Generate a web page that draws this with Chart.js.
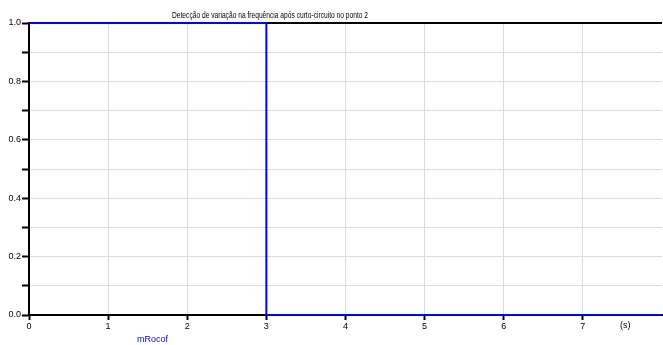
<!DOCTYPE html>
<html>
<head>
<meta charset="utf-8">
<script src="https://cdn.jsdelivr.net/npm/chart.js@4/dist/chart.umd.min.js"></script>
<style>
  html, body { margin: 0; padding: 0; background: #fff; }
  #wrap { width: 663px; height: 345px; }
</style>
</head>
<body>
<div id="wrap"><canvas id="chart" width="663" height="345"></canvas></div>
<script>
// step signal
const time = [0, 3, 3, 8];
const mRocof = [1, 1, 0, 0];
const xTicks = ['0', '1', '2', '3', '4', '5', '6', '7'];
const yTicks = ['0.0', '0.2', '0.4', '0.6', '0.8', '1.0'];
const chartTitle = 'Detecção de variação na frequência após curto-circuito no ponto 2';
const seriesName = 'mRocof';
const xUnit = '(s)';

const FONT = '"Liberation Sans", Arial, sans-serif';

// top frame line, drawn under the series
const frame = {
    id: 'frame',
    beforeDatasetsDraw(chart) {
        const ctx = chart.ctx;
        const area = chart.chartArea;
        ctx.save();
        ctx.strokeStyle = '#000';
        ctx.lineWidth = 2;
        ctx.beginPath();
        ctx.moveTo(area.left, area.top);
        ctx.lineTo(area.right, area.top);
        ctx.stroke();
        ctx.restore();
    }
};

// title, unit and legend text drawn at fixed spots like the original tool
const extras = {
    id: 'extras',
    afterDraw(chart) {
        const ctx = chart.ctx;
        ctx.save();
        ctx.font = '9px ' + FONT;
        ctx.fillStyle = '#000';
        ctx.textBaseline = 'middle';
        ctx.textAlign = 'center';
        const w = ctx.measureText(chartTitle).width;
        ctx.save();
        ctx.translate(270, 15.5);
        ctx.scale(196 / w, 1);
        ctx.fillText(chartTitle, 0, 0);
        ctx.restore();

        ctx.textAlign = 'left';
        ctx.fillText(xUnit, 620, 326);

        ctx.fillStyle = '#0000ff';
        ctx.fillText(seriesName, 137, 340);
        ctx.restore();
    }
};

new Chart(document.getElementById('chart'), {
    type: 'line',
    data: {
        datasets: [{
            label: seriesName,
            data: time.map((t, i) => ({ x: t, y: mRocof[i] })),
            borderColor: '#0000ff',
            borderWidth: 2,
            pointRadius: 0,
            fill: false,
            tension: 0,
            clip: false
        }]
    },
    options: {
        responsive: false,
        animation: false,
        layout: { padding: { top: 23, right: 0, left: 0, bottom: 0 } },
        plugins: {
            legend: { display: false },
            title: { display: false },
            tooltip: { enabled: false }
        },
        scales: {
            x: {
                type: 'linear',
                min: 0,
                max: 8,
                afterFit: s => { s.height = 30; },
                border: { color: '#000', width: 2 },
                grid: {
                    color: c => c.tick && (c.tick.value === 0 || c.tick.value === 8) ? 'rgba(0,0,0,0)' : '#dcdcdc',
                    lineWidth: 1,
                    tickColor: c => c.tick && c.tick.value === 8 ? 'rgba(0,0,0,0)' : '#000',
                    tickLength: 5,
                    tickWidth: 2
                },
                ticks: {
                    stepSize: 1,
                    maxRotation: 0,
                    autoSkip: false,
                    padding: 1,
                    color: '#000',
                    font: { family: FONT, size: 9 },
                    callback: v => xTicks[v] !== undefined ? xTicks[v] : ''
                }
            },
            y: {
                min: 0,
                max: 1,
                afterFit: s => { s.width = 29; },
                border: { color: '#000', width: 2 },
                grid: {
                    color: c => {
                        const v = c.tick ? Math.round(c.tick.value * 10) : -1;
                        return (v === 0 || v === 10) ? 'rgba(0,0,0,0)' : '#dcdcdc';
                    },
                    lineWidth: 1,
                    tickColor: '#000',
                    tickLength: 7,
                    tickWidth: 2
                },
                ticks: {
                    stepSize: 0.1,
                    autoSkip: false,
                    padding: 1,
                    color: '#000',
                    font: { family: FONT, size: 9 },
                    callback: v => {
                        const k = Math.round(v * 10);
                        return k % 2 === 0 ? yTicks[k / 2] : '';
                    }
                }
            }
        }
    },
    plugins: [frame, extras]
});
</script>
</body>
</html>
